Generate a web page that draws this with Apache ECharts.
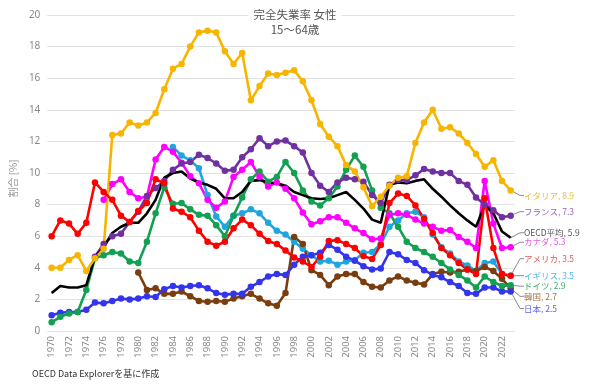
<!DOCTYPE html>
<html><head><meta charset="utf-8">
<script src="https://cdn.jsdelivr.net/npm/echarts@6/dist/echarts.min.js"></script>
<style>html,body{margin:0;padding:0;background:#fff}#c{width:590px;height:385px}</style>
</head><body><div id="c"></div>
<script>
const years = ['1970','1971','1972','1973','1974','1975','1976','1977','1978','1979',
'1980','1981','1982','1983','1984','1985','1986','1987','1988','1989',
'1990','1991','1992','1993','1994','1995','1996','1997','1998','1999',
'2000','2001','2002','2003','2004','2005','2006','2007','2008','2009',
'2010','2011','2012','2013','2014','2015','2016','2017','2018','2019',
'2020','2021','2022','2023'];

const italy = [4.0,4.0,4.5,4.8,3.8,4.6,5.2,12.4,12.5,13.2,
13.0,13.2,13.8,15.3,16.6,16.9,18.0,18.9,19.0,18.9,
17.7,16.9,17.6,14.6,15.5,16.3,16.2,16.35,16.5,15.8,
14.6,13.1,12.3,11.7,10.5,10.1,9.1,7.9,8.5,9.2,
9.7,9.8,11.9,13.2,14.0,12.8,12.9,12.5,11.9,11.2,
10.4,10.8,9.5,8.9];
const france = [null,null,null,null,null,4.7,5.5,6.0,6.15,6.9,
7.55,8.55,9.05,9.5,10.2,10.6,10.7,11.15,10.95,10.6,
10.15,10.2,11.0,11.5,12.2,11.7,12.0,12.05,11.7,11.3,
10.0,9.2,8.8,9.4,9.7,9.6,9.45,8.6,8.1,9.25,
9.55,9.55,9.85,10.25,10.1,10.0,10.0,9.5,9.25,8.45,
8.0,7.65,7.2,7.3];
const oecd = [2.4,2.85,2.75,2.75,2.9,4.7,5.3,6.2,6.6,6.85,
6.85,7.45,8.3,9.7,10.0,10.1,9.65,9.4,9.25,9.0,
8.4,8.4,8.8,9.5,9.55,9.4,9.35,9.2,8.8,8.6,
8.4,8.35,8.4,8.6,8.8,8.3,7.75,7.05,6.85,9.25,
9.4,9.35,9.5,9.6,9.0,8.5,7.95,7.45,7.0,6.6,
7.95,7.45,6.3,5.9];
const canada = [null,null,null,null,null,null,8.3,9.3,9.6,8.8,
8.4,8.5,10.85,11.65,11.35,10.65,9.8,9.35,8.3,7.8,
8.2,9.75,10.2,10.7,9.75,9.15,9.4,9.0,8.4,7.5,
6.75,6.95,7.2,7.2,6.85,6.5,6.2,5.8,5.85,7.35,
7.45,7.35,7.05,6.8,6.6,6.35,6.4,5.95,5.65,5.25,
9.5,6.8,5.25,5.3];
const usa = [6.0,7.0,6.8,6.15,6.85,9.4,8.8,8.3,7.3,6.9,
7.6,8.1,9.6,9.35,7.75,7.55,7.2,6.35,5.65,5.4,
5.65,6.5,7.05,6.7,6.15,5.7,5.5,5.1,4.65,4.4,
4.05,4.7,5.7,5.75,5.5,5.25,4.75,4.55,5.45,8.1,
8.7,8.55,7.95,7.1,6.2,5.25,4.8,4.3,3.9,3.6,
8.4,5.25,3.6,3.5];
const uk = [null,null,null,null,null,null,null,null,null,null,
null,null,null,null,11.65,11.1,10.8,10.3,8.6,7.25,
6.6,7.3,7.45,7.7,7.45,6.85,6.35,6.1,5.65,5.2,
4.8,4.4,4.45,4.2,4.4,4.5,4.95,5.0,5.5,6.6,
7.0,7.45,7.55,7.2,6.1,5.3,4.9,4.4,4.15,3.8,
4.3,4.4,3.6,3.5];
const germany = [0.55,0.9,1.1,1.2,2.6,4.6,4.8,5.0,4.9,4.4,
4.3,5.65,7.45,9.1,8.05,8.1,7.7,7.35,7.3,6.7,
6.0,7.3,8.45,9.6,10.1,9.45,9.75,10.7,10.0,8.9,
8.2,7.95,8.4,9.15,10.2,11.1,10.4,8.9,7.8,7.45,
6.6,5.65,5.25,5.0,4.7,4.3,3.9,3.55,3.2,2.75,
3.45,3.1,2.85,2.9];
const korea = [null,null,null,null,null,null,null,null,null,null,
3.7,2.6,2.7,2.35,2.35,2.5,2.2,1.9,1.85,1.9,
1.85,2.05,2.2,2.35,2.05,1.75,1.6,2.4,5.95,5.5,
3.85,3.55,2.9,3.45,3.6,3.6,3.1,2.8,2.75,3.2,
3.45,3.2,3.05,2.95,3.6,3.75,3.7,3.75,3.9,3.8,
4.05,3.8,3.3,2.7];
const japan = [1.0,1.15,1.2,1.2,1.35,1.8,1.75,1.9,2.05,2.0,
2.05,2.2,2.15,2.65,2.85,2.75,2.85,2.9,2.7,2.4,
2.3,2.35,2.35,2.8,3.1,3.45,3.6,3.55,4.2,4.7,
4.8,4.95,5.45,5.15,4.7,4.45,4.1,3.9,3.95,5.0,
4.85,4.5,4.3,3.85,3.55,3.4,3.1,2.85,2.4,2.35,
2.75,2.75,2.5,2.5];

const yTicks = [0,2,4,6,8,10,12,14,16,18,20];

// drawing order (bottom to top)
const seriesDefs = [
  {name:'イギリス', data:uk, color:'#1fa6df', label:'#4cb9e6', dy:0},
  {name:'韓国', data:korea, color:'#7a3d0e', label:'#a27650', dy:8},
  {name:'日本', data:japan, color:'#3434ee', label:'#6262e6', dy:17},
  {name:'ドイツ', data:germany, color:'#12a052', label:'#3dad6e', dy:1},
  {name:'カナダ', data:canada, color:'#ff00ff', label:'#e45ae4', dy:-5},
  {name:'フランス', data:france, color:'#7030a0', label:'#9868bb', dy:-4},
  {name:'OECD平均', data:oecd, color:'#000000', label:'#555555', dy:-5, noSymbol:true},
  {name:'イタリア', data:italy, color:'#f7b500', label:'#e9bd40', dy:5},
  {name:'アメリカ', data:usa, color:'#ff0000', label:'#e05a5a', dy:-17}
];

const last = years.length - 1;
const guide = {show: true, length2: 4, lineStyle: {color: '#8c8c8c', width: 1}};
const series = seriesDefs.map(function (d) {
  return {
    name: d.name,
    type: 'line',
    data: d.data.map(function (v, i) {
      if (i === last) {
        return {value: v, label: {show: true}, labelLine: guide};
      }
      return v;
    }),
    showAllSymbol: true,
    symbol: 'circle',
    symbolSize: d.noSymbol ? 0.5 : 6.5,
    lineStyle: {width: 2.6, color: d.color},
    itemStyle: {color: d.color},
    emphasis: {disabled: true},
    label: {
      show: false,
      formatter: '{a}, {c}',
      color: d.label,
      fontSize: 8.5,
      fontFamily: 'Noto Sans CJK JP'
    },
    labelLine: guide,
    labelLayout: function (p) {
      return {
        x: 524,
        y: p.rect.y + p.rect.height / 2 + d.dy,
        align: 'left',
        verticalAlign: 'middle'
      };
    },
    animation: false
  };
});

const chart = echarts.init(document.getElementById('c'), null, {renderer: 'canvas'});
chart.setOption({
  animation: false,
  backgroundColor: '#ffffff',
  textStyle: {fontFamily: 'Noto Sans CJK JP'},
  title: {
    text: '完全失業率 女性\n15～64歳',
    left: 'center',
    top: 5,
    padding: [2, 5],
    backgroundColor: '#ffffff',
    textStyle: {fontSize: 11.5, fontWeight: 'normal', color: '#555', lineHeight: 15, fontFamily: 'Noto Sans CJK JP', align: 'center'}
  },
  grid: {left: 43, right: 75, top: 15, bottom: 54, containLabel: false},
  xAxis: {
    type: 'category',
    data: years,
    boundaryGap: true,
    axisLine: {show: false},
    axisTick: {show: false},
    axisLabel: {interval: 1, rotate: 90, fontSize: 9.5, color: '#888', margin: 5, fontFamily: 'Noto Sans'},
    splitLine: {show: false}
  },
  yAxis: {
    type: 'value',
    min: yTicks[0],
    max: yTicks[yTicks.length - 1],
    interval: 2,
    name: '割合 [%]',
    nameLocation: 'middle',
    nameGap: 28,
    nameTextStyle: {fontSize: 10, color: '#999', fontFamily: 'Noto Sans CJK JP', padding: [0, 0, 0, -11]},
    axisLine: {show: false},
    axisTick: {show: false},
    axisLabel: {fontSize: 10, color: '#888', margin: 7, fontFamily: 'Noto Sans'},
    splitLine: {lineStyle: {color: '#e2e2e2', width: 1}}
  },
  graphic: [{
    type: 'text',
    left: 32,
    top: 369,
    style: {text: 'OECD Data Explorerを基に作成', fontSize: 9, fill: '#333', fontFamily: 'Noto Sans CJK JP'}
  }],
  series: series
});
</script>
</body></html>
